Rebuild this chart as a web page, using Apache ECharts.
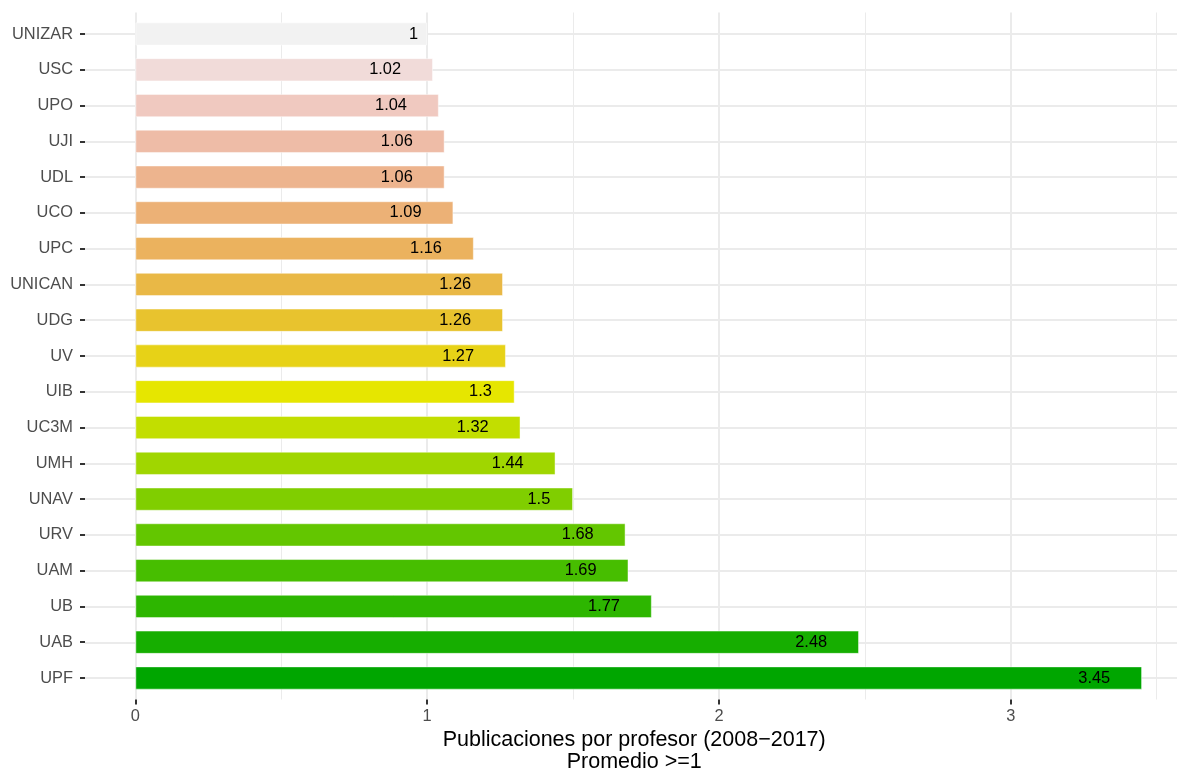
<!DOCTYPE html>
<html>
<head>
<meta charset="utf-8">
<script src="https://cdn.jsdelivr.net/npm/echarts@6/dist/echarts.min.js"></script>
<style>html,body{margin:0;padding:0;background:#fff;}#c{width:1177px;height:771px;}</style>
</head>
<body>
<div id="c"></div>
<script>
// Data (top to bottom)
const categories = ['UNIZAR','USC','UPO','UJI','UDL','UCO','UPC','UNICAN','UDG','UV','UIB','UC3M','UMH','UNAV','URV','UAM','UB','UAB','UPF'];
const values = [1, 1.02, 1.04, 1.06, 1.06, 1.09, 1.16, 1.26, 1.26, 1.27, 1.3, 1.32, 1.44, 1.5, 1.68, 1.69, 1.77, 2.48, 3.45];
const palette = ['#F2F2F2','#F1DBD9','#F0C9C0','#EEBCA7','#EDB48E','#ECB176','#EBB25E','#E9B846','#E8C32E','#E7D217','#E6E600','#C2DE00','#A0D600','#80CE00','#63C600','#47BE00','#2DB600','#16AE00','#00A600'];
const xTicks = [0, 1, 2, 3];
const xMinorTicks = [0.5, 1.5, 2.5, 3.5];
const xTitle = 'Publicaciones por profesor (2008\u22122017)\nPromedio >=1';

const FONT = 'Liberation Sans, Arial, Helvetica, sans-serif';
const xMin = -0.1725, xMax = 3.6225;
const yIdx = categories.map((_, i) => i + 1);

const chart = echarts.init(document.getElementById('c'), null, {renderer: 'canvas'});
chart.setOption({
  animation: false,
  backgroundColor: '#ffffff',
  grid: [
    {left: 85, width: 1107.4, top: 16.1, height: 679.8, outerBoundsMode: 'none', containLabel: false},
    {left: 85, width: 1107.4, top: 12.5, height: 687, outerBoundsMode: 'none', containLabel: false}
  ],
  xAxis: [
    {gridIndex: 0, type: 'value', min: xMin, max: xMax, show: false},
    {gridIndex: 1, type: 'value', min: xMin, max: xMax, position: 'bottom',
     axisLine: {show: false, onZero: false},
     axisTick: {show: true, length: 5, lineStyle: {color: '#333333', width: 2}, customValues: xTicks},
     axisLabel: {customValues: xTicks, color: '#4D4D4D', fontSize: 16.4, fontFamily: FONT, margin: 9},
     splitLine: {show: true, lineStyle: {color: '#EBEBEB', width: 2}},
     name: xTitle, nameLocation: 'middle', nameGap: 28,
     nameTextStyle: {color: '#000000', fontSize: 21.5, fontFamily: FONT, lineHeight: 22, verticalAlign: 'top', padding: [0, 9, 0, 0]}
    },
    {gridIndex: 1, type: 'value', min: xMin, max: xMax, position: 'top',
     axisLine: {show: false, onZero: false},
     axisTick: {show: false, customValues: xMinorTicks},
     axisLabel: {show: false, customValues: xMinorTicks},
     splitLine: {show: true, lineStyle: {color: '#EBEBEB', width: 1}}
    }
  ],
  yAxis: [
    {gridIndex: 0, type: 'category', data: categories, inverse: true,
     axisLine: {show: false, onZero: false},
     axisTick: {show: true, alignWithLabel: true, length: 5, lineStyle: {color: '#333333', width: 2}},
     axisLabel: {color: '#4D4D4D', fontSize: 16.4, fontFamily: FONT, margin: 12},
     splitLine: {show: false}
    },
    {gridIndex: 1, type: 'value', min: 0.4, max: 19.6, inverse: true,
     axisLine: {show: false, onZero: false},
     axisTick: {show: false, customValues: yIdx},
     axisLabel: {show: false, customValues: yIdx},
     splitLine: {show: true, lineStyle: {color: '#EBEBEB', width: 2}}
    }
  ],
  series: [
    {type: 'scatter', xAxisIndex: 1, yAxisIndex: 1, data: [], silent: true},
    {type: 'bar', xAxisIndex: 0, yAxisIndex: 0, barWidth: '65%', z: 3,
     data: values.map((v, i) => ({value: v, itemStyle: {color: palette[i], borderColor: 'rgba(255,255,255,0.45)', borderWidth: 1}})),
     label: {
       show: true, position: 'insideRight', distance: 0,
       color: '#000000', fontSize: 16.4, fontFamily: FONT,
       formatter: p => { const s = String(p.value); return s + '{h|' + s + '}'; },
       rich: {h: {color: 'rgba(0,0,0,0)', fontSize: 16.4, fontFamily: FONT}}
     }
    }
  ]
});
</script>
</body>
</html>
